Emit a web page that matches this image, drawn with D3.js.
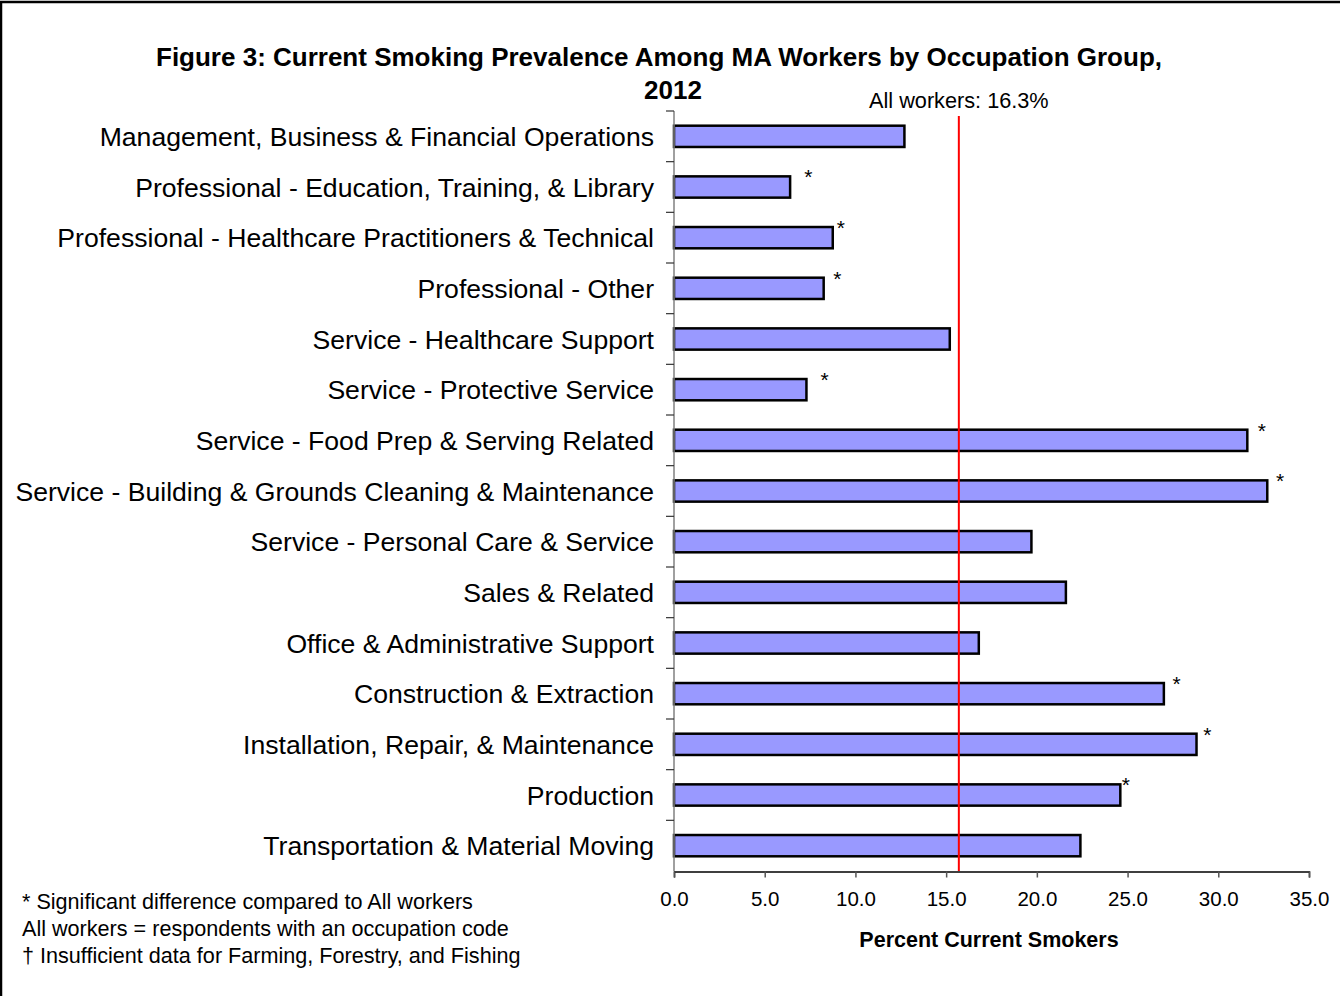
<!DOCTYPE html>
<html>
<head>
<meta charset="utf-8">
<script src="https://cdn.jsdelivr.net/npm/d3@7"></script>
<style>
  body { margin: 0; background: #fff; }
  svg { display: block; font-family: "Liberation Sans", Arial, sans-serif; }
</style>
</head>
<body>
<svg width="1340" height="996"></svg>
<script>
// occupation groups, top to bottom
const categories = [
  'Management, Business & Financial Operations',
  'Professional - Education, Training, & Library',
  'Professional - Healthcare Practitioners & Technical',
  'Professional - Other',
  'Service - Healthcare Support',
  'Service - Protective Service',
  'Service - Food Prep & Serving Related',
  'Service - Building & Grounds Cleaning & Maintenance',
  'Service - Personal Care & Service',
  'Sales & Related',
  'Office & Administrative Support',
  'Construction & Extraction',
  'Installation, Repair, & Maintenance',
  'Production',
  'Transportation & Material Moving',
];
// percent current smokers
const values = [12.7, 6.4, 8.75, 8.25, 15.2, 7.3, 31.6, 32.7, 19.7, 21.6, 16.8, 27.0, 28.8, 24.6, 22.4];
// asterisk marks (significant difference), placed at these x values; null = none
const starAt = [null, 7.4, 9.2, 9.0, null, 8.3, 32.4, 33.4, null, null, null, 27.7, 29.4, 24.9, null];
const xTicks = [0, 5, 10, 15, 20, 25, 30, 35];
const allWorkersLine = 15.7;
const allWorkersLabel = 'All workers: 16.3%';
const titleLines = ['Figure 3: Current Smoking Prevalence Among MA Workers by Occupation Group,', '2012'];
const footnotes = [
  '* Significant difference compared to All workers',
  'All workers = respondents with an occupation code',
  '\u2020 Insufficient data for Farming, Forestry, and Fishing',
];

const svg = d3.select('svg');

// outer frame (only top and left edges show)
svg.append('rect')
  .attr('x', 1).attr('y', 2)
  .attr('width', 1400).attr('height', 1100)
  .attr('fill', 'none')
  .attr('stroke', '#000')
  .attr('stroke-width', 2.5);

const x = d3.scaleLinear().domain([0, 35]).range([674, 1309]);
const y = d3.scaleBand().domain(categories).range([111, 871]).paddingInner(0.58).paddingOuter(0.29);
const yTickScale = d3.scaleLinear().domain([0, categories.length]).range([111, 871]);

// title
svg.append('g').selectAll('text')
  .data(titleLines)
  .join('text')
  .attr('x', (d, i) => (i === 0 ? 659 : 673))
  .attr('y', (d, i) => 66 + i * 33)
  .attr('text-anchor', 'middle')
  .style('font-size', '26px')
  .style('font-weight', 'bold')
  .text((d) => d);

// bars
svg.append('g').selectAll('rect')
  .data(values)
  .join('rect')
  .attr('x', x(0))
  .attr('y', (d, i) => y(categories[i]))
  .attr('width', (d) => x(d) - x(0))
  .attr('height', y.bandwidth())
  .attr('fill', '#9999ff')
  .attr('stroke', '#000')
  .attr('stroke-width', 2.5);

// asterisks
svg.append('g').selectAll('text')
  .data(starAt.map((s, i) => ({ s, i })).filter((d) => d.s !== null))
  .join('text')
  .attr('x', (d) => x(d.s))
  .attr('y', (d) => y(categories[d.i]) + 8)
  .attr('text-anchor', 'middle')
  .style('font-size', '21px')
  .text('*');

// y axis
const yAxis = svg.append('g');
yAxis.append('line')
  .attr('x1', x(0)).attr('x2', x(0))
  .attr('y1', 111).attr('y2', 871)
  .attr('stroke', '#808080')
  .attr('stroke-width', 1.5);
yAxis.selectAll('line.tick')
  .data(d3.range(categories.length))
  .join('line')
  .attr('class', 'tick')
  .attr('x1', x(0) - 8).attr('x2', x(0))
  .attr('y1', (d) => yTickScale(d)).attr('y2', (d) => yTickScale(d))
  .attr('stroke', '#333')
  .attr('stroke-width', 1.2);
yAxis.selectAll('text')
  .data(categories)
  .join('text')
  .attr('x', 654)
  .attr('y', (d) => y(d) + y.bandwidth() / 2)
  .attr('dy', '0.36em')
  .attr('text-anchor', 'end')
  .style('font-size', '26.6px')
  .text((d) => d);

// x axis
const xAxis = svg.append('g')
  .attr('transform', 'translate(0,871.5)')
  .call(d3.axisBottom(x).tickValues(xTicks).tickFormat(d3.format('.1f')).tickSizeOuter(0).tickSize(6).tickPadding(14));
xAxis.select('.domain').attr('stroke', '#000').attr('stroke-width', 1.5);
xAxis.selectAll('.tick line').attr('stroke', '#555').attr('stroke-width', 1.5);
xAxis.selectAll('.tick text')
  .attr('fill', '#000')
  .style('font-size', '20.5px')
  .style('font-family', '"Liberation Sans", Arial, sans-serif');

svg.append('text')
  .attr('x', 989).attr('y', 947)
  .attr('text-anchor', 'middle')
  .style('font-size', '21.5px')
  .style('font-weight', 'bold')
  .text('Percent Current Smokers');

// all workers reference line
svg.append('line')
  .attr('x1', x(allWorkersLine)).attr('x2', x(allWorkersLine))
  .attr('y1', 116).attr('y2', 871)
  .attr('stroke', '#ff0000')
  .attr('stroke-width', 2);
svg.append('text')
  .attr('x', x(allWorkersLine)).attr('y', 108)
  .attr('text-anchor', 'middle')
  .style('font-size', '21.7px')
  .text(allWorkersLabel);

// footnotes
svg.append('g').selectAll('text')
  .data(footnotes)
  .join('text')
  .attr('x', 22)
  .attr('y', (d, i) => 909 + i * 27)
  .style('font-size', '21.6px')
  .text((d) => d);
</script>
</body>
</html>
